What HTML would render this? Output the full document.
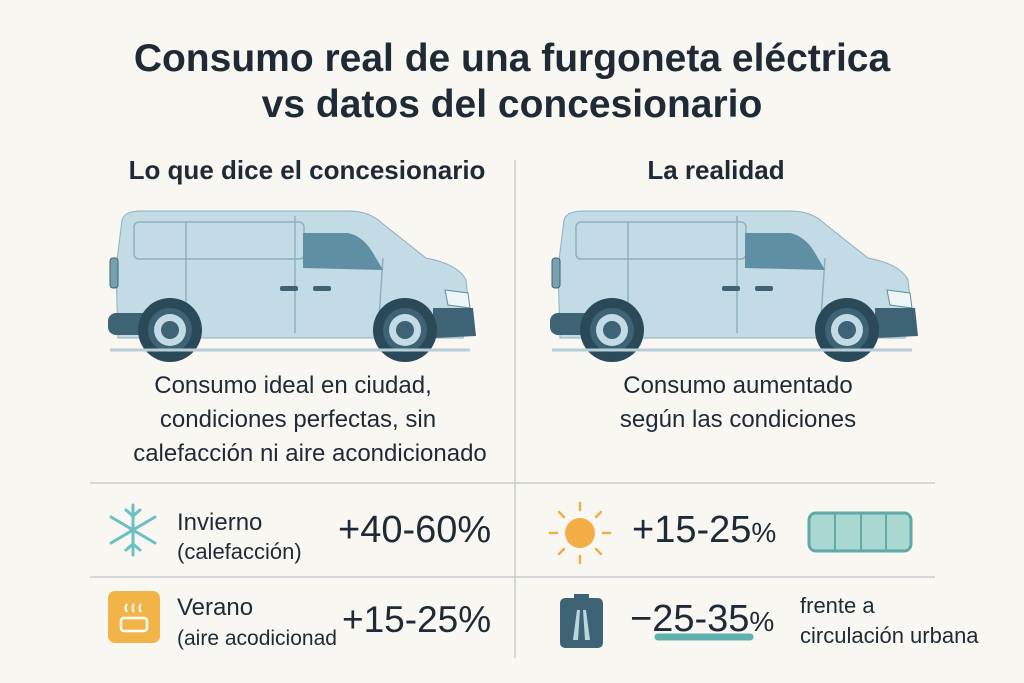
<!DOCTYPE html>
<html><head><meta charset="utf-8"><style>
body{margin:0;background:#f8f7f2;}
svg{display:block;font-family:"Liberation Sans",sans-serif;}
</style></head><body>
<svg width="1024" height="683" viewBox="0 0 1024 683">
<defs>
<g id="van">
 <path d="M14,12 Q16,3 34,3 L240,3 Q262,3 275,16 L318,50 Q350,56 358,72 L362,110 L355,130 L10,130 L8,60 Z" fill="#c3dbe5" stroke="#8fb0bf" stroke-width="1"/>
 <rect x="26" y="14" width="170" height="37" rx="5" fill="none" stroke="#8fb0bf" stroke-width="1.5"/>
 <line x1="78" y1="14" x2="78" y2="125" stroke="#8fb0bf" stroke-width="1.5"/>
 <line x1="187" y1="8" x2="187" y2="125" stroke="#8fb0bf" stroke-width="1.5"/>
 <line x1="275" y1="50" x2="270" y2="125" stroke="#8fb0bf" stroke-width="1.5"/>
 <path d="M195,25 L240,25 Q255,28 265,45 L275,62 L195,60 Z" fill="#5e8fa3"/>
 <rect x="172" y="78" width="18" height="5" rx="2" fill="#3d6375"/>
 <rect x="205" y="78" width="18" height="5" rx="2" fill="#3d6375"/>
 <path d="M337,82 L360,85 L362,100 L340,97 Z" fill="#eef5f7" stroke="#5e8fa3"/>
 <path d="M325,100 L365,100 L368,128 L325,130 Z" fill="#3d6375"/>
 <rect x="2" y="50" width="8" height="30" rx="3" fill="#7aa0b0" stroke="#3d6375"/>
 <rect x="0" y="105" width="45" height="22" rx="8" fill="#3d6375"/>
 <circle cx="62" cy="122" r="32" fill="#2a4a5a"/>
 <circle cx="62" cy="122" r="22" fill="#3d6375"/>
 <circle cx="62" cy="122" r="16" fill="#c3dbe5"/>
 <circle cx="62" cy="122" r="9" fill="#3d6375"/>
 <circle cx="297" cy="122" r="32" fill="#2a4a5a"/>
 <circle cx="297" cy="122" r="22" fill="#3d6375"/>
 <circle cx="297" cy="122" r="16" fill="#c3dbe5"/>
 <circle cx="297" cy="122" r="9" fill="#3d6375"/>
</g>
</defs>
<g fill="#1e2a36" text-anchor="middle" font-weight="bold" font-size="39">
<text x="512" y="71">Consumo real de una furgoneta eléctrica</text>
<text x="512" y="117">vs datos del concesionario</text>
</g>
<text x="307" y="179" text-anchor="middle" font-size="26" font-weight="bold" fill="#1e2a36">Lo que dice el concesionario</text>
<text x="716" y="179" text-anchor="middle" font-size="26" font-weight="bold" fill="#1e2a36">La realidad</text>
<line x1="515" y1="160" x2="515" y2="658" stroke="#c9ccce" stroke-width="1.5"/>
<use href="#van" x="108" y="208"/>
<use href="#van" x="550" y="208"/>
<line x1="110" y1="350" x2="470" y2="350" stroke="#b7ced8" stroke-width="3"/>
<line x1="552" y1="350" x2="912" y2="350" stroke="#b7ced8" stroke-width="3"/>
<g font-size="24" fill="#1e2a36" text-anchor="middle">
<text x="293" y="393">Consumo ideal en ciudad,</text>
<text x="298" y="427">condiciones perfectas, sin</text>
<text x="310" y="461">calefacción ni aire acondicionado</text>
</g>
<g font-size="24" fill="#1e2a36" text-anchor="middle">
<text x="738" y="393">Consumo aumentado</text>
<text x="738" y="427">según las condiciones</text>
</g>
<line x1="90" y1="483" x2="935" y2="483" stroke="#c9ccce" stroke-width="1.5"/>
<line x1="90" y1="577" x2="935" y2="577" stroke="#c9ccce" stroke-width="1.5"/>
<g stroke="#6cc0c4" stroke-width="3" stroke-linecap="round">
<line x1="133" y1="505" x2="133" y2="555"/><line x1="111" y1="517" x2="155" y2="543"/><line x1="111" y1="543" x2="155" y2="517"/>
<polyline points="126,510 133,516 140,510" fill="none"/><polyline points="126,550 133,544 140,550" fill="none"/>
</g>
<text x="177" y="530" font-size="24" fill="#1e2a36">Invierno</text>
<text x="177" y="559" font-size="22" fill="#1e2a36">(calefacción)</text>
<text x="338" y="542" font-size="38" fill="#1e2a36">+40-60%</text>
<g>
<circle cx="580" cy="533" r="15" fill="#f2ae45"/>
<g stroke="#f2ae45" stroke-width="2.5" stroke-linecap="round">
<line x1="580" y1="503" x2="580" y2="510"/><line x1="580" y1="556" x2="580" y2="563"/><line x1="550" y1="533" x2="557" y2="533"/><line x1="603" y1="533" x2="610" y2="533"/>
<line x1="559" y1="512" x2="564" y2="517"/><line x1="596" y1="549" x2="601" y2="554"/><line x1="559" y1="554" x2="564" y2="549"/><line x1="596" y1="517" x2="601" y2="512"/>
</g></g>
<text x="632" y="542" font-size="38" fill="#1e2a36">+15-25<tspan font-size="28">%</tspan></text>
<g>
<rect x="809" y="513" width="102" height="38" rx="7" fill="#a8d8d0" stroke="#5fa9a6" stroke-width="3"/>
<line x1="835" y1="514" x2="835" y2="550" stroke="#5fa9a6" stroke-width="2"/>
<line x1="861" y1="514" x2="861" y2="550" stroke="#5fa9a6" stroke-width="2"/>
<line x1="886" y1="514" x2="886" y2="550" stroke="#5fa9a6" stroke-width="2"/>
</g>
<g>
<rect x="108" y="591" width="52" height="52" rx="7" fill="#f3b447"/>
<rect x="121" y="618" width="26" height="13" rx="3" fill="none" stroke="#fff" stroke-width="2.5"/>
<path d="M127,612 q-3,-4 0,-8 M134,612 q-3,-4 0,-8 M141,612 q-3,-4 0,-8" stroke="#fff" stroke-width="2" fill="none"/>
</g>
<text x="177" y="615" font-size="24" fill="#1e2a36">Verano</text>
<text x="177" y="645" font-size="21" fill="#1e2a36">(aire acodicionad</text>
<text x="342" y="632" font-size="37" fill="#1e2a36">+15-25%</text>
<g>
<rect x="560" y="598" width="43" height="50" rx="5" fill="#3d6375"/>
<rect x="574" y="594" width="15" height="6" fill="#3d6375"/>
<path d="M577,610 L573,640 L578,640 L580,610 Z M586,610 L590,640 L585,640 L583,610 Z" fill="#b7d6e0"/>
</g>
<text x="630" y="631" font-size="38" fill="#1e2a36">−25-35<tspan font-size="28">%</tspan></text>
<line x1="658" y1="637" x2="750" y2="637" stroke="#5fb0ad" stroke-width="7" stroke-linecap="round"/>
<text x="800" y="613" font-size="22" fill="#1e2a36">frente a</text>
<text x="800" y="643" font-size="22" fill="#1e2a36">circulación urbana</text>
</svg>
</body></html>
